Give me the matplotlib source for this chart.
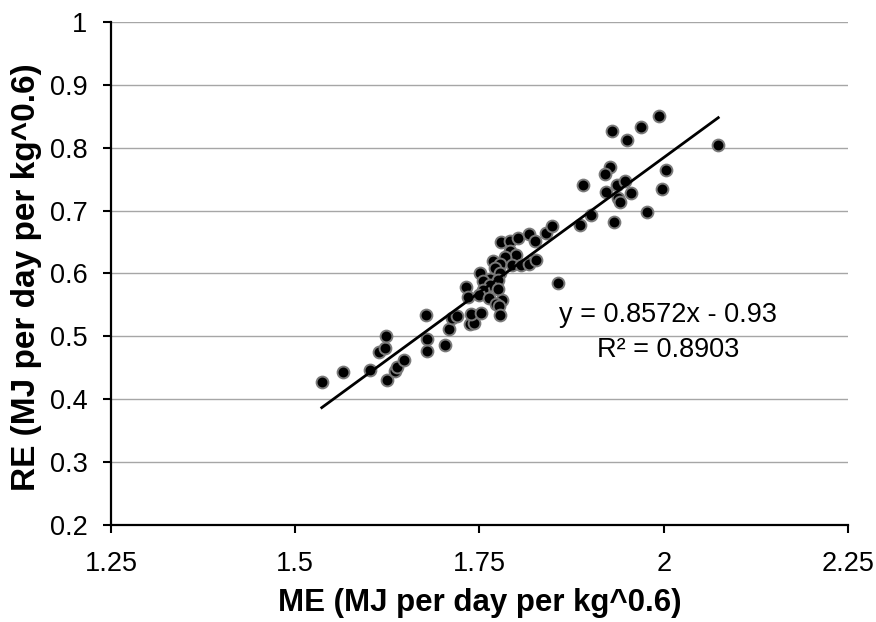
import numpy as np
import matplotlib
matplotlib.use("Agg")
import matplotlib.pyplot as plt

plt.rcParams['font.family'] = ['Liberation Sans', 'DejaVu Sans']

# metabolisable energy intake vs retained energy, per kg^0.6
me = [1.536, 1.565, 1.601, 1.624, 1.614, 1.622, 1.623, 1.635, 1.638, 1.647,
      1.678, 1.679, 1.679, 1.703, 1.709, 1.713, 1.720, 1.737, 1.743, 1.738,
      1.752,
      1.779, 1.792, 1.802, 1.817, 1.826, 1.840, 1.849, 1.791, 1.800, 1.785,
      1.769, 1.778, 1.794, 1.806, 1.817, 1.827, 1.771, 1.751, 1.778, 1.764,
      1.775, 1.755, 1.732, 1.764, 1.775, 1.755, 1.735, 1.750, 1.763, 1.781,
      1.773, 1.777, 1.857, 1.778,
      1.993, 1.969, 1.930, 1.950, 2.074, 1.927, 1.920, 2.003, 1.890, 1.936,
      1.947, 1.921, 1.955, 1.998, 1.938, 1.941, 1.977, 1.902, 1.932, 1.886]
re = [0.428, 0.444, 0.446, 0.431, 0.475, 0.481, 0.501, 0.445, 0.452, 0.463,
      0.534, 0.496, 0.476, 0.486, 0.512, 0.529, 0.532, 0.519, 0.521, 0.536,
      0.537,
      0.650, 0.652, 0.656, 0.663, 0.651, 0.665, 0.676, 0.635, 0.630, 0.626,
      0.620, 0.615, 0.614, 0.613, 0.615, 0.622, 0.609, 0.600, 0.601, 0.591,
      0.590, 0.588, 0.578, 0.582, 0.576, 0.574, 0.562, 0.565, 0.561, 0.558,
      0.551, 0.549, 0.585, 0.534,
      0.851, 0.833, 0.827, 0.813, 0.804, 0.769, 0.759, 0.764, 0.740, 0.740,
      0.747, 0.730, 0.728, 0.735, 0.720, 0.714, 0.698, 0.693, 0.682, 0.677]

slope = 0.8572
intercept = -0.93
r2 = 0.8903

xticks = [1.25, 1.5, 1.75, 2.0, 2.25]
xticklabels = ["1.25", "1.5", "1.75", "2", "2.25"]
yticks = [0.2, 0.3, 0.4, 0.5, 0.6, 0.7, 0.8, 0.9, 1.0]
yticklabels = ["0.2", "0.3", "0.4", "0.5", "0.6", "0.7", "0.8", "0.9", "1"]

fig = plt.figure(figsize=(8.76, 6.22), dpi=100)
ax = fig.add_axes([0.1267, 0.156, 0.8413, 0.8086])

ax.set_xlim(1.25, 2.25)
ax.set_ylim(0.2, 1.0)

for yv in yticks[1:]:
    ax.axhline(yv, color='#a6a6a6', lw=1.0, zorder=0)

ax.plot(me, re, 'o', ms=8.5, mfc='black', mec='#7a7a7a', mew=1.4, zorder=3)

# linear trend line over the observed range
xl = np.array([min(me), max(me)])
ax.plot(xl, slope * xl + intercept, color='black', lw=2.0, zorder=4)

ax.text(2.006, 0.534, f"y = {slope}x - {abs(intercept)}", ha='center',
        va='center', fontsize=19.5)
ax.text(2.006, 0.478, f"R² = {r2}", ha='center', va='center', fontsize=19.5)

ax.set_xticks(xticks)
ax.set_xticklabels(xticklabels)
ax.set_yticks(yticks)
ax.set_yticklabels(yticklabels)
ax.tick_params(direction='out', length=6, width=1.5, labelsize=19.5,
               colors='black')
ax.tick_params(axis='y', pad=11)
ax.tick_params(axis='x', pad=13)

for s in ['top', 'right']:
    ax.spines[s].set_visible(False)
for s in ['left', 'bottom']:
    ax.spines[s].set_linewidth(1.6)

ax.set_xlabel("ME (MJ per day per kg^0.6)", fontsize=22.5, fontweight='bold',
              va='center')
ax.xaxis.set_label_coords(0.501, -0.155)
ax.set_ylabel("RE (MJ per day per kg^0.6)", fontsize=24, fontweight='bold',
              va='center')
ax.yaxis.set_label_coords(-0.114, 0.493)

fig.savefig("out.png", dpi=100)
